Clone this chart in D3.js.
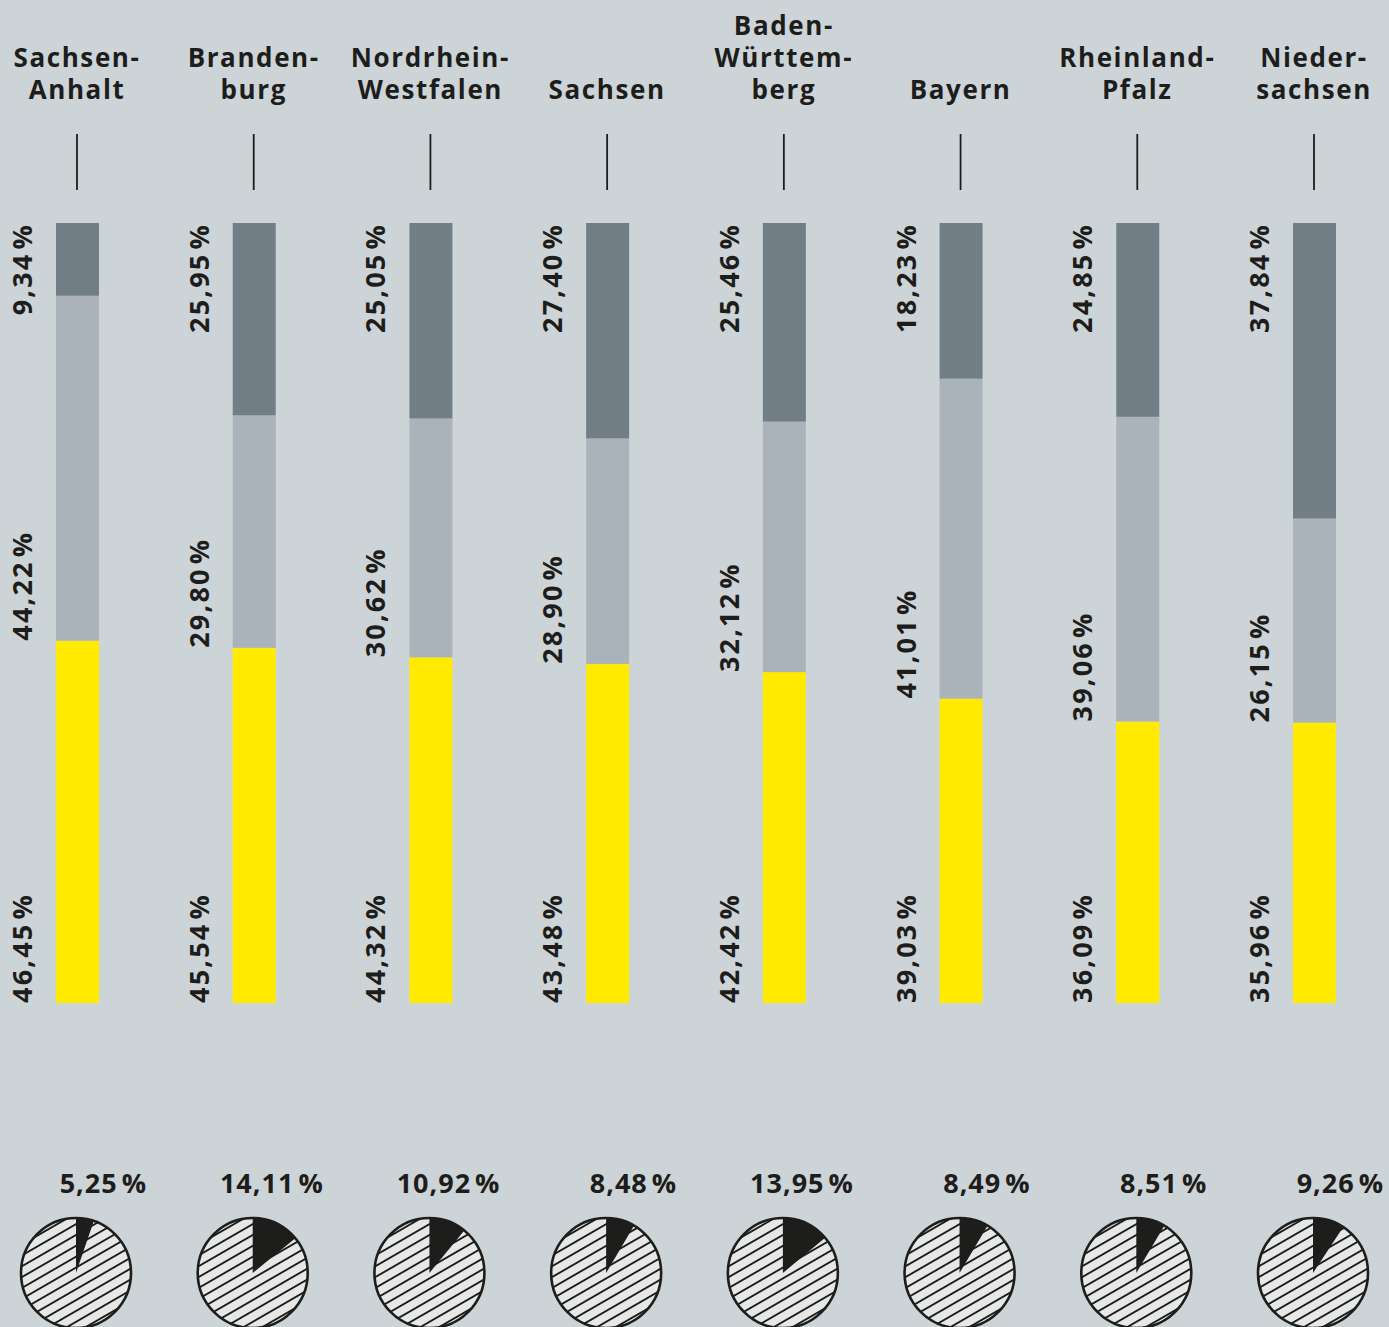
<!DOCTYPE html>
<html><head><meta charset="utf-8">
<script src="https://cdn.jsdelivr.net/npm/d3@7/dist/d3.min.js"></script>
<style>
html,body{margin:0;padding:0;background:#cdd4d7;}
svg{display:block;}
text{font-family:"Open Sans",sans-serif;font-weight:700;fill:#1d1d1b;}
</style></head>
<body>
<script>
const states = ["Sachsen-Anhalt","Brandenburg","Nordrhein-Westfalen","Sachsen","Baden-Württemberg","Bayern","Rheinland-Pfalz","Niedersachsen"];
const headerLines = [["Sachsen-","Anhalt"],["Branden-","burg"],["Nordrhein-","Westfalen"],["Sachsen"],["Baden-","Württem-","berg"],["Bayern"],["Rheinland-","Pfalz"],["Nieder-","sachsen"]];
const yellowVals = [46.45,45.54,44.32,43.48,42.42,39.03,36.09,35.96];
const lightVals  = [44.22,29.80,30.62,28.90,32.12,41.01,39.06,26.15];
const darkVals   = [9.34,25.95,25.05,27.40,25.46,18.23,24.85,37.84];
const pieVals    = [5.25,14.11,10.92,8.48,13.95,8.49,8.51,9.26];

const W=1389,H=1327;
const num = v => d3.format(".2f")(v).replace(".", ",");
const svg = d3.select("body").append("svg").attr("width",W).attr("height",H);
svg.append("rect").attr("width",W).attr("height",H).attr("fill","#cdd4d7");

const defs = svg.append("defs");
const hs = 9.4;
const pat = defs.append("pattern").attr("id","hatch").attr("patternUnits","userSpaceOnUse")
  .attr("width",hs).attr("height",hs).attr("patternTransform","rotate(-30)");
pat.append("rect").attr("width",hs).attr("height",hs).attr("fill","#e6e7e7");
pat.append("line").attr("x1",0).attr("y1",hs/2).attr("x2",hs).attr("y2",hs/2).attr("stroke","#1d1d1b").attr("stroke-width",1.9);

const x = d3.scalePoint().domain(states).range([77,1314]);
const y = d3.scaleLinear().domain([0,100]).range([1003,223]);
const barW = 43;

const data = states.map((s,i)=>({s,i,yel:yellowVals[i],lig:lightVals[i],drk:darkVals[i],pie:pieVals[i],lines:headerLines[i]}));

const g = svg.selectAll("g.col").data(data).join("g").attr("class","col");

// headers
g.each(function(d){
  const n=d.lines.length;
  d.lines.forEach((l,k)=>{
    d3.select(this).append("text").attr("text-anchor","middle").attr("font-size",26).attr("letter-spacing",1.6)
      .attr("x",x(d.s)).attr("y",99-(n-1-k)*32).text(l);
  });
});
// tick
g.append("line").attr("x1",d=>x(d.s)).attr("x2",d=>x(d.s)).attr("y1",134).attr("y2",190)
  .attr("stroke","#1d1d1b").attr("stroke-width",1.8);

// bars (top segment fills the remainder up to 100 %)
const bx = d=>x(d.s)-barW/2+0.5;
g.append("rect").attr("x",bx).attr("width",barW).attr("y",d=>y(d.yel)).attr("height",d=>y(0)-y(d.yel)).attr("fill","#ffea00");
g.append("rect").attr("x",bx).attr("width",barW).attr("y",d=>y(d.yel+d.lig)).attr("height",d=>y(d.yel)-y(d.yel+d.lig)).attr("fill","#a9b3b9");
g.append("rect").attr("x",bx).attr("width",barW).attr("y",y(100)).attr("height",d=>y(d.yel+d.lig)-y(100)).attr("fill","#727e86");

// rotated labels
const lab = (sel, yy, anchor, val) => {
  const t = sel.append("text")
    .attr("transform",d=>`translate(${x(d.s)-45},${yy(d)}) rotate(-90)`)
    .attr("text-anchor",anchor).attr("font-size",27).attr("letter-spacing",2.2);
  t.append("tspan").text(d=>num(val(d)));
  t.append("tspan").attr("dx",3).text("%");
};
lab(g, d=>y(0), "start", d=>d.yel);
lab(g, d=>y(d.yel), "start", d=>d.lig);
lab(g, d=>y(100), "end", d=>d.drk);

// pie labels
const pl = g.append("text").attr("x",d=>x(d.s)+70).attr("y",1193).attr("text-anchor","end").attr("font-size",27).attr("letter-spacing",1);
pl.append("tspan").text(d=>num(d.pie));
pl.append("tspan").attr("dx",4).text("%");

// pies
const R=55;
const arc = d3.arc().innerRadius(0).outerRadius(R);
const pie = d3.pie().sort(null).value(v=>v);
g.each(function(d){
  const pg=d3.select(this).append("g").attr("transform",`translate(${x(d.s)-1},1273)`);
  pg.append("circle").attr("r",R).attr("fill","url(#hatch)");
  const arcs=pie([d.pie,100-d.pie]);
  pg.append("path").attr("d",arc(arcs[0])).attr("fill","#1d1d1b");
  pg.append("circle").attr("r",R).attr("fill","none").attr("stroke","#1d1d1b").attr("stroke-width",2.6);
});
</script>
</body></html>
